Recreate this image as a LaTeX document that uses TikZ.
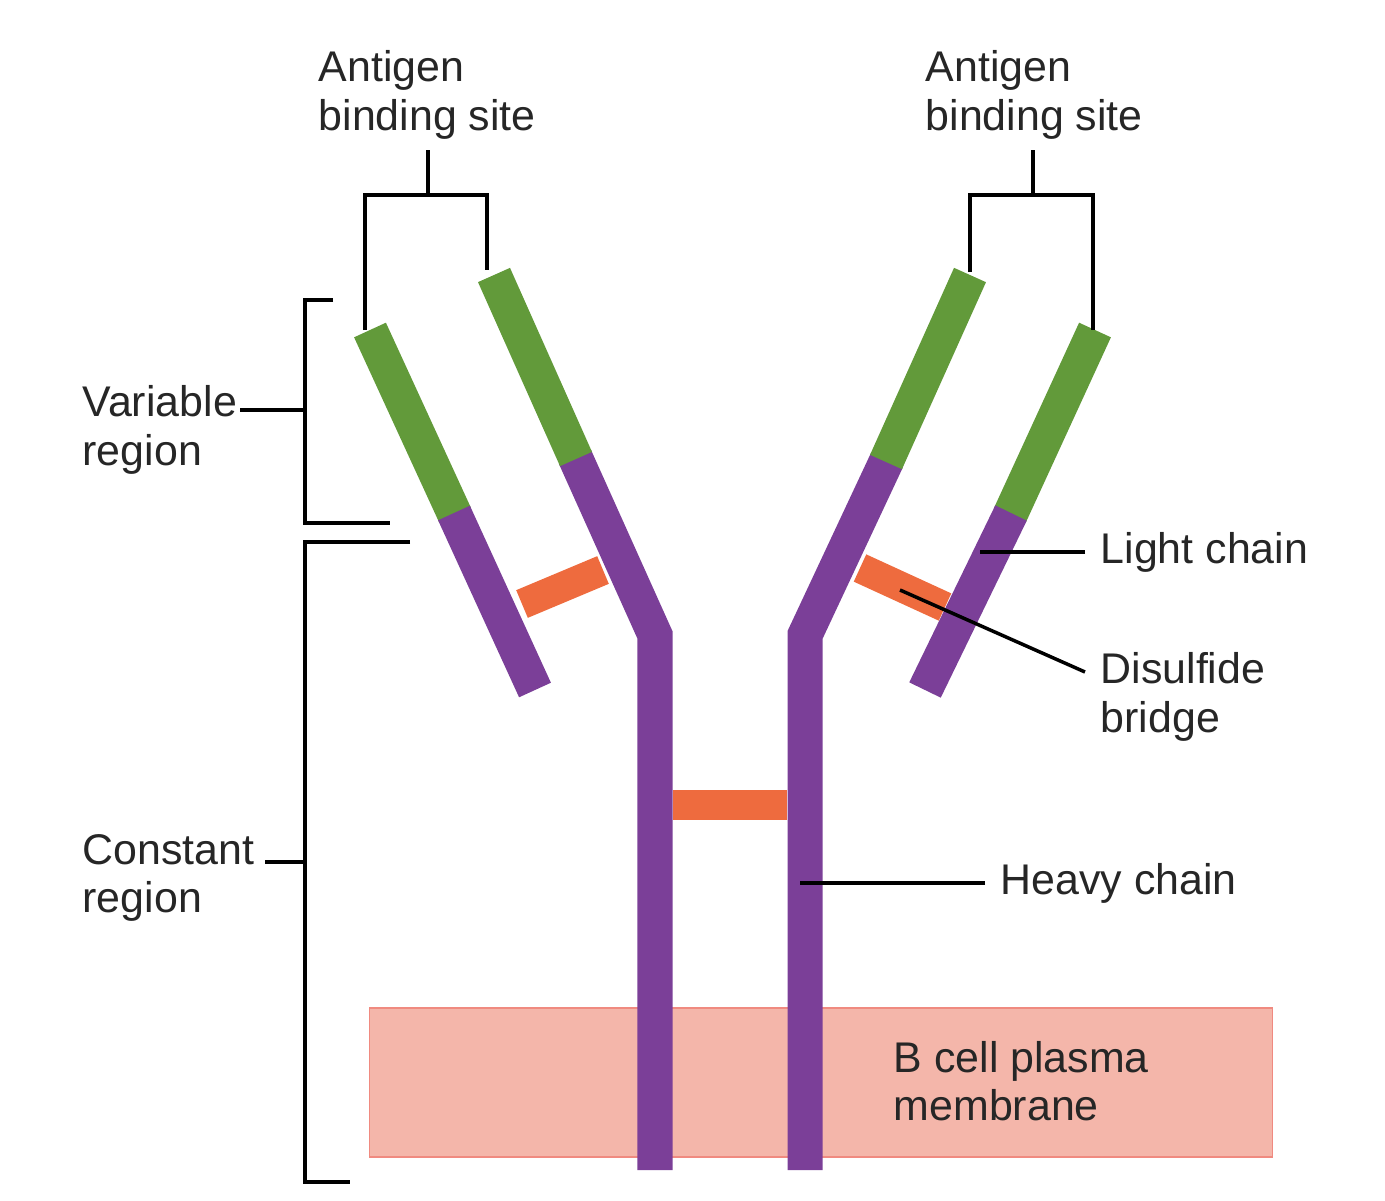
\documentclass[tikz,border=0pt]{standalone}
\usepackage{fontspec}
\setmainfont{Liberation Sans}
\usetikzlibrary{calc}
\definecolor{vargreen}{HTML}{629A3A}
\definecolor{chainpurple}{HTML}{7B3F98}
\definecolor{bridgeorange}{HTML}{EE6B3E}
\definecolor{membranepink}{HTML}{F4B6AA}
\definecolor{membraneedge}{HTML}{F08A80}
\tikzset{
  chain/.style={line width=0.35cm, chainpurple},
  var/.style={line width=0.35cm, vargreen},
  bridge/.style={line width=0.3cm, bridgeorange},
  brace/.style={line width=0.035cm, black},
  lbl/.style={font=\fontsize{12.2}{13.8}\selectfont, align=left, inner sep=0pt, text=black!85}
}
\begin{document}
\begin{tikzpicture}[x=0.01cm, y=-0.01cm]
    \useasboundingbox (0,0) rectangle (1385,1200);
    % membrane
    \node[draw=membraneedge, fill=membranepink, minimum width=9.02cm, minimum height=1.49cm, inner sep=0pt] (membrane) at (821,1082.5) {};
    \node[lbl, anchor=west] (memlbl) at (893,1081) {B cell plasma\\membrane};

    % heavy chains
    \draw[chain] (575,457) -- (655,635) -- (655,1170);
    \draw[var] (494,275) -- (576,459);
    \draw[chain] (887,460) -- (805,635) -- (805,1170);
    \draw[var] (970,275) -- (886,462);
    % light chains
    \draw[var] (370,330) -- (455,515);
    \draw[chain] (454,513) -- (535,690);
    \draw[var] (1095,330) -- (1010,515);
    \draw[chain] (1011,513) -- (925,690);
    % disulfide bridges
    \draw[bridge] (522,604) -- (603,570);
    \draw[bridge] (860,568) -- (945,607);
    \draw[bridge] (673,805) -- (787,805);

    % antigen binding site brackets
    \node[lbl, anchor=north west] (abl) at (318,50) {Antigen\\binding site};
    \node[lbl, anchor=north west] (abr) at (925,50) {Antigen\\binding site};
    \draw[brace] (365,330) -- (365,195) -- (487,195) -- (487,270);
    \draw[brace] (428,195) -- (428,150);
    \draw[brace] (970,272) -- (970,195) -- (1093,195) -- (1093,330);
    \draw[brace] (1033,195) -- (1033,150);

    % region brackets
    \node[lbl, anchor=west] (varlbl) at (82,430) {Variable\\region};
    \draw[brace] (333,300) -- (305,300) -- (305,523) -- (390,523);
    \draw[brace] (240,410) -- (305,410);
    \node[lbl, anchor=west] (conlbl) at (82,878) {Constant\\region};
    \draw[brace] (410,542) -- (305,542) -- (305,1182) -- (350,1182);
    \draw[brace] (265,862) -- (305,862);

    % chain labels
    \node[lbl, anchor=west] (light) at (1100,552) {Light chain};
    \draw[brace] (light.west) ++(-15,0) -- (980,552);
    \node[lbl, anchor=west] (disulf) at (1100,697) {Disulfide\\bridge};
    \draw[brace] (1085,672) -- (900,590);
    \node[lbl, anchor=west] (heavy) at (1000,883) {Heavy chain};
    \draw[brace] (985,883) -- (800,883);
\end{tikzpicture}
\end{document}
